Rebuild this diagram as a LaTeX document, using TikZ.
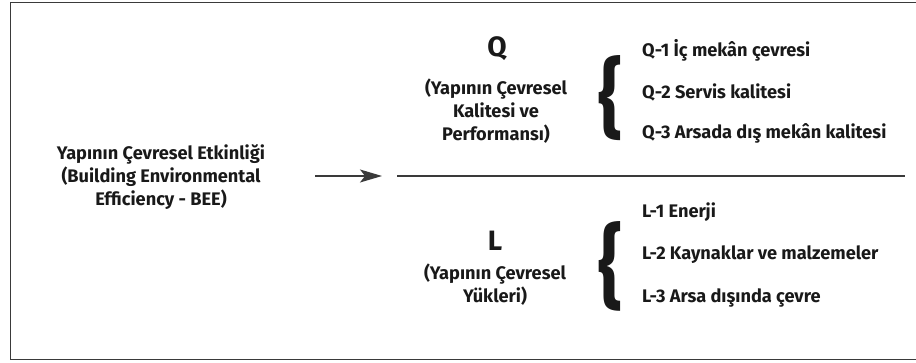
\documentclass[tikz,border=0pt]{standalone}
\usepackage{fontspec}
\usepackage{graphicx}
\setmainfont{Fira Sans}
\usetikzlibrary{arrows.meta}
\definecolor{framegray}{HTML}{3A3A3A}
\begin{document}
\begin{tikzpicture}[x=1pt,y=-1pt,
  txt/.style={font=\fontsize{18.2}{23}\selectfont\bfseries, inner sep=0pt, align=center, text=black!90},
  item/.style={font=\fontsize{18.2}{23}\selectfont\bfseries, inner sep=0pt, anchor=west, text=black!90},
  big/.style={font=\fontsize{28}{30}\selectfont\bfseries, inner sep=0pt, text=black!90},
  brace/.style={inner sep=0pt, text=black!90},
  rule/.style={draw=framegray, line width=1.4pt}]
\useasboundingbox (0,0) rectangle (916,363);
% frame (open on the right)
\draw[rule, line width=1.6pt] (916,2.5) -- (10.5,2.5) -- (10.5,359.5) -- (916,359.5);
% left text
\node[txt] (bee) at (161,177) {Yapının Çevresel Etkinliği\\(Building Environmental\\Efficiency - BEE)};
% arrow
\coordinate (a1) at (315,176);
\coordinate (a2) at (382,176);
\draw[rule, line width=1.2pt, -{Stealth[length=22pt,width=13pt,inset=5pt]}] (a1) -- (a2);
% divider
\coordinate (h1) at (397,176);
\coordinate (h2) at (905,176);
\draw[rule] (h1) -- (h2);
% Q block
\node[big] (Q) at (497,49) {Q};
\node[txt] (qsub) at (496,111) {(Yapının Çevresel\\Kalitesi ve\\Performansı)};
\node[brace] (qbrace) at (610.5,98.5) {\resizebox{24pt}{73pt}{\bfseries\{}};
\node[item] (q1) at (642,50) {Q-1 İç mekân çevresi};
\node[item] (q2) at (642,92) {Q-2 Servis kalitesi};
\node[item] (q3) at (642,133) {Q-3 Arsada dış mekân kalitesi};
% L block
\node[big] (L) at (495,241) {L};
\node[txt] (lsub) at (495,285) {(Yapının Çevresel\\Yükleri)};
\node[brace] (lbrace) at (610.5,266.5) {\resizebox{24pt}{77pt}{\bfseries\{}};
\node[item] (l1) at (642,212) {L-1 Enerji};
\node[item] (l2) at (642,255) {L-2 Kaynaklar ve malzemeler};
\node[item] (l3) at (642,298) {L-3 Arsa dışında çevre};
\end{tikzpicture}
\end{document}
